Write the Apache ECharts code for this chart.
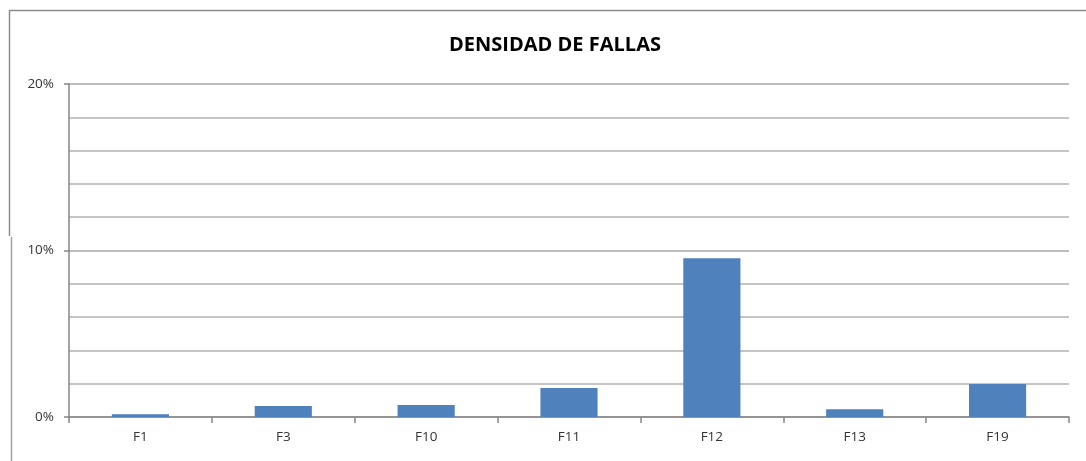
<!DOCTYPE html>
<html>
<head>
<meta charset="utf-8">
<script src="https://cdn.jsdelivr.net/npm/echarts@6/dist/echarts.min.js"></script>
<style>
html,body{margin:0;padding:0;background:#fff;}
#c{width:1086px;height:461px;}
</style>
</head>
<body>
<div id="c"></div>
<script>
var categories = ['F1', 'F3', 'F10', 'F11', 'F12', 'F13', 'F19'];
var densidad = [0.17, 0.66, 0.72, 1.74, 9.54, 0.46, 1.98];
var yTickLabels = ['0%', '10%', '20%'];

var chart = echarts.init(document.getElementById('c'), null, {renderer: 'canvas'});
chart.setOption({
  animation: false,
  backgroundColor: '#ffffff',
  title: {
    text: 'DENSIDAD DE FALLAS',
    left: 550, top: 30, textAlign: 'center',
    textStyle: {fontFamily: 'Open Sans', fontWeight: 'bold', fontSize: 20, color: '#000'}
  },
  graphic: [
    {type: 'line', shape: {x1: 9, y1: 10.5, x2: 1086, y2: 10.5}, style: {stroke: '#8c8c8c', lineWidth: 1.5}},
    {type: 'line', shape: {x1: 9.5, y1: 10, x2: 9.5, y2: 236}, style: {stroke: '#8c8c8c', lineWidth: 1.5}},
    {type: 'line', shape: {x1: 11.5, y1: 237, x2: 11.5, y2: 461}, style: {stroke: '#a0a0a0', lineWidth: 1.5}}
  ],
  grid: {left: 69, right: 17, top: 84, bottom: 44, containLabel: false},
  xAxis: {
    type: 'category',
    data: categories,
    axisLine: {lineStyle: {color: '#868686', width: 1.5}},
    axisTick: {show: true, length: 6, alignWithLabel: false, lineStyle: {color: '#868686', width: 1.5}},
    axisLabel: {fontFamily: 'Open Sans', fontSize: 13.5, color: '#333', margin: 13}
  },
  yAxis: {
    type: 'value',
    min: 0, max: 20, interval: 10,
    axisLine: {show: true, lineStyle: {color: '#868686', width: 1.5}},
    axisTick: {show: true, length: 5, lineStyle: {color: '#868686', width: 1.5}},
    axisLabel: {
      fontFamily: 'Open Sans', fontSize: 13.5, color: '#333', margin: 15,
      formatter: function (v) { return yTickLabels[Math.round(v / 10)]; }
    },
    splitLine: {show: true, lineStyle: {color: '#a6a6a6', width: 1.5}},
    minorTick: {show: false, splitNumber: 5},
    minorSplitLine: {show: true, lineStyle: {color: '#b3b3b3', width: 1.5}}
  },
  series: [{
    type: 'bar',
    data: densidad,
    barWidth: '40%',
    itemStyle: {color: '#4f81bd'}
  }]
});
</script>
</body>
</html>
